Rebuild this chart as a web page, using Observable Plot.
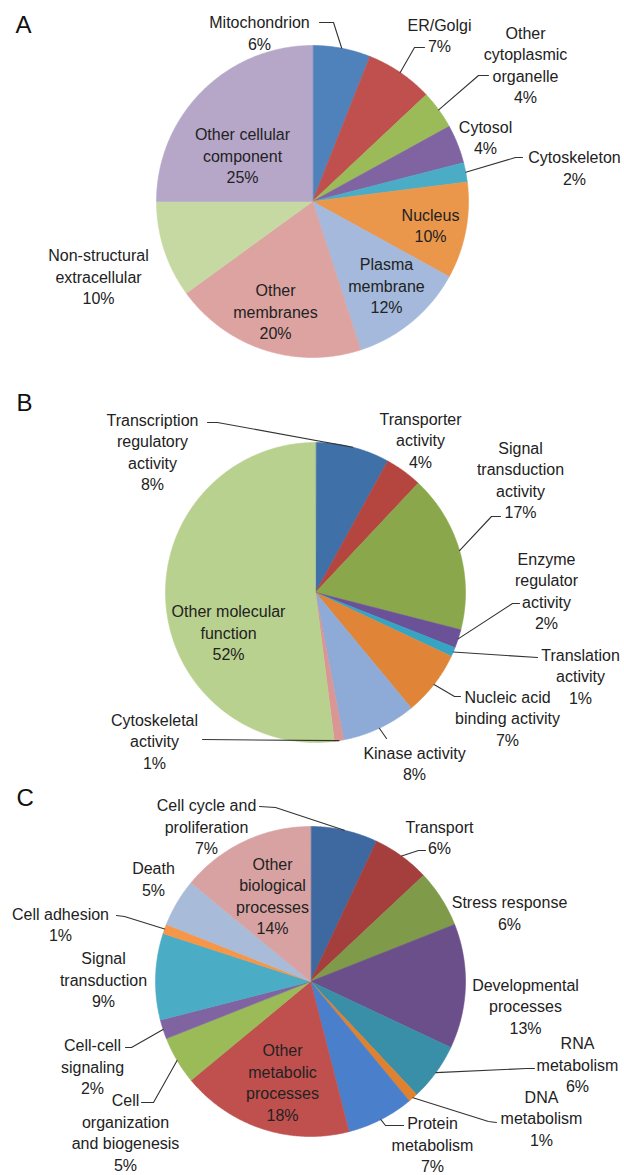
<!DOCTYPE html>
<html>
<head>
<meta charset="utf-8">
<script src="https://cdn.jsdelivr.net/npm/d3@7"></script>
<script src="https://cdn.jsdelivr.net/npm/@observablehq/plot@0.6"></script>
<style>
html, body { margin: 0; padding: 0; background: #fff; }
#chart svg { display: block; }
</style>
</head>
<body>
<div id="chart"></div>
<script>
// ---------- Panel A: cellular component ----------
const aCategories = ["Mitochondrion", "ER/Golgi", "Other\ncytoplasmic\norganelle", "Cytosol", "Cytoskeleton",
  "Nucleus", "Plasma\nmembrane", "Other\nmembranes", "Non-structural\nextracellular", "Other cellular\ncomponent"];
const aValues = [6, 7, 4, 4, 2, 10, 12, 20, 10, 25];

// ---------- Panel B: molecular function ----------
const bCategories = ["Transcription\nregulatory\nactivity", "Transporter\nactivity", "Signal\ntransduction\nactivity",
  "Enzyme\nregulator\nactivity", "Translation\nactivity", "Nucleic acid\nbinding activity", "Kinase activity",
  "Cytoskeletal\nactivity", "Other molecular\nfunction"];
const bValues = [8, 4, 17, 2, 1, 7, 8, 1, 52];

// ---------- Panel C: biological process ----------
const cCategories = ["Cell cycle and\nproliferation", "Transport", "Stress response", "Developmental\nprocesses",
  "RNA\nmetabolism", "DNA\nmetabolism", "Protein\nmetabolism", "Other\nmetabolic\nprocesses",
  "Cell\norganization\nand biogenesis", "Cell-cell\nsignaling", "Signal\ntransduction", "Cell adhesion",
  "Death", "Other\nbiological\nprocesses"];
const cValues = [7, 6, 6, 13, 6, 1, 7, 18, 5, 2, 9, 1, 5, 14];

// ---------- Styles ----------
const aColors = ["#4f82bb", "#c0504d", "#9bbb59", "#8064a2", "#4bacc6", "#ea974b", "#a4b9db", "#dca3a1", "#c6d9a2", "#b6a7c9"];
const bColors = ["#4070a8", "#b5453f", "#8aa84b", "#6b5197", "#36a4c3", "#e08538", "#8eaad7", "#d99694", "#b9d18f"];
const cColors = ["#3e69a0", "#a43f3d", "#7f9a48", "#6b4f8a", "#3a8fa8", "#e0812f", "#4a7fcb", "#c0504d",
  "#9bbb59", "#8064a2", "#4bacc6", "#f79646", "#a8bbd9", "#d8a2a3"];

const W = 624;
const FONT = "'Liberation Sans', Arial, Helvetica, sans-serif";

// Layout (pixel offsets from the pie centre)
const aLayout = {
  height: 390, cx: 312, cy: 201, r: 156, letter: "A", letterX: 15, letterTop: 15,
  labels: [[-53, -169.5], [127, -167], [213, -137.5], [173, -65], [262, -34.5], [118, 23], [74, 83.5], [-37, 109.5], [-214, 74.5], [-70, -46.5]],
  leaders: {0: [[21, -179], [7, -179]], 1: [[102, -154], [112, -154]], 2: [[166, -126], [176, -126]], 4: [[203, -44], [210, -44]]}
};
const bLayout = {
  height: 390, cx: 315, cy: 202, r: 150, letter: "B", letterX: 16, letterTop: 3,
  labels: [[-163, -141.5], [105, -153], [205, -113.5], [231, -2.5], [265, 83], [192, 125], [99, 170], [-161, 148], [-87, 39.5]],
  leaders: {0: [[-98, -170], [-108, -170]], 2: [[176, -76], [185, -76]], 3: [[197, 11], [204, 11]], 4: [[222, 65]],
    5: [[139, 104], [145, 104]], 6: [[71, 146]], 7: [[-113, 147]]}
};
const cLayout = {
  height: 395, cx: 310, cy: 201, r: 155, letter: "C", letterX: 16, letterTop: 8,
  labels: [[-104, -155.5], [129, -145], [199, -69.5], [215, 24], [267, 82.5], [231, 136], [122, 162.5], [-28, 100],
    [-185, 150], [-218, 84.5], [-207, -2.5], [-250, -58], [-157, -103.5], [-38, -86.5]],
  leaders: {0: [[-35, -174], [-51, -175]], 1: [[108, -131], [115, -131]], 4: [[216, 87], [224, 87]], 5: [[178, 140], [186, 141]],
    6: [[75, 144], [93, 144]], 8: [[-157, 121], [-169, 121]], 9: [[-179, 66], [-185, 66]], 11: [[-186, -65], [-194, -66]]}
};

function buildPanel(cats, vals, colors, lay) {
  const {height: H, cx, cy, r: R} = lay;
  const arcs = d3.pie().sort(null).value(d => d)(vals);
  const step = Math.PI / 360;
  const slicePts = arcs.flatMap((a, i) => {
    const n = Math.max(2, Math.ceil((a.endAngle - a.startAngle) / step));
    const pts = [{cat: cats[i], x: 0, y: 0}];
    for (let j = 0; j <= n; j++) {
      const t = a.startAngle + (a.endAngle - a.startAngle) * j / n;
      pts.push({cat: cats[i], x: Math.sin(t), y: -Math.cos(t)});
    }
    return pts;
  });
  const labelData = cats.map((c, i) => ({
    text: `${c}\n${vals[i]}%`, x: lay.labels[i][0] / R, y: lay.labels[i][1] / R
  }));
  const leaderPts = Object.entries(lay.leaders).flatMap(([k, pts]) => {
    const a = arcs[+k];
    const m = (a.startAngle + a.endAngle) / 2;
    return [{id: k, x: Math.sin(m), y: -Math.cos(m)},
      ...pts.map(([dx, dy]) => ({id: k, x: dx / R, y: dy / R}))];
  });
  return Plot.plot({
    width: W, height: H, margin: 0,
    x: {domain: [-cx / R, (W - cx) / R], range: [0, W], axis: null},
    y: {domain: [-cy / R, (H - cy) / R], range: [0, H], axis: null},
    color: {type: "ordinal", domain: cats, range: colors},
    style: {fontFamily: FONT, background: "white", overflow: "visible"},
    marks: [
      Plot.line(slicePts, {x: "x", y: "y", z: "cat", fill: "cat", stroke: "cat", strokeWidth: 0.6, curve: "linear-closed"}),
      Plot.line(leaderPts, {x: "x", y: "y", z: "id", stroke: "#333", strokeWidth: 1.1}),
      Plot.text(labelData, {x: "x", y: "y", text: "text", textAnchor: "middle", lineAnchor: "middle",
        lineHeight: 1.34, fontSize: 16, fill: "#222", fontFamily: FONT}),
      Plot.text([lay.letter], {frameAnchor: "top-left", text: d => d, dx: lay.letterX, dy: lay.letterTop,
        lineAnchor: "top", textAnchor: "start", fontSize: 24, fill: "#111", fontFamily: FONT})
    ]
  });
}

const root = document.getElementById("chart");
root.append(buildPanel(aCategories, aValues, aColors, aLayout));
root.append(buildPanel(bCategories, bValues, bColors, bLayout));
root.append(buildPanel(cCategories, cValues, cColors, cLayout));
</script>
</body>
</html>
